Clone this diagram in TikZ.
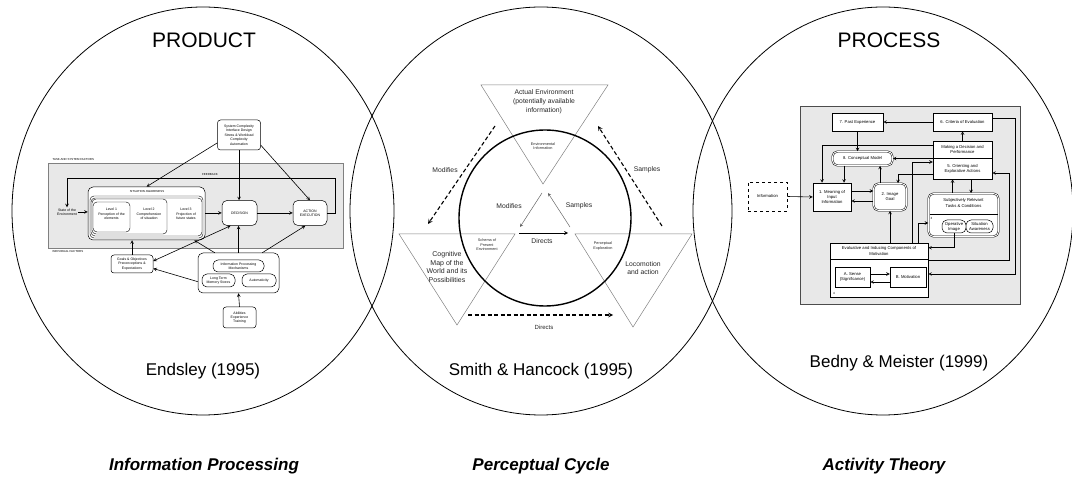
\documentclass[tikz,border=0pt]{standalone}
\usepackage{fontspec}
\setmainfont{Liberation Sans}

\newcommand\ensfont{\fontsize{3.5}{4.4}\selectfont}
\newcommand\enscaps{\fontsize{2.9}{3.5}\selectfont}
\newcommand\bedfont{\fontsize{4.2}{5.1}\selectfont}
\newcommand\phfont{\fontsize{6.8}{8.8}\selectfont}
\newcommand\phsmall{\fontsize{3.8}{4.6}\selectfont}

\begin{document}
\begin{tikzpicture}[
    x=1pt, y=-1pt,
    circ/.style={line width=0.8pt},
    ebox/.style={draw, rounded corners=3pt, fill=white, font=\ensfont, align=center, inner sep=0.5pt, line width=0.5pt},
    epill/.style={ebox, rounded corners=5pt},
    abox/.style={draw, fill=white, font=\bedfont, align=center, inner sep=0.5pt, line width=0.5pt},
    dbox/.style={abox, double, double distance=0.9pt, rounded corners=5pt},
    arrow/.style={->, >=stealth, line width=0.6pt},
    tri/.style={draw=gray, line width=0.5pt},
    darrow/.style={->, >=stealth, line width=1.1pt, dash pattern=on 4pt off 2.5pt},
    ptext/.style={font=\phfont, text=black!85, align=center},
    title/.style={font=\fontsize{21}{24}\selectfont},
    author/.style={font=\fontsize{17}{20}\selectfont},
    theory/.style={font=\fontsize{17}{20}\selectfont\bfseries\itshape}
]
\useasboundingbox (0,0) rectangle (1072,478);

% Three circles
\draw[circ] (203,211) ellipse [x radius=191, y radius=204];
\draw[circ] (541,211) ellipse [x radius=191, y radius=204];
\draw[circ] (883,211) ellipse [x radius=190, y radius=204];

% Titles
\node[title] (product) at (204,40) {PRODUCT};
\node[title] (process) at (889,40) {PROCESS};
\node[author] (endsley) at (203,371) {Endsley (1995)};
\node[author] (smith) at (541,371) {Smith \& Hancock (1995)};
\node[author] (bedny) at (899,363) {Bedny \& Meister (1999)};
\node[theory] (infoproc) at (204,466) {Information Processing};
\node[theory] (perccyc) at (541,466) {Perceptual Cycle};
\node[theory] (acttheo) at (884,466) {Activity Theory};

% Endsley model
\draw[fill=gray!18, draw=gray, line width=0.5pt] (48,163) rectangle (343,248);
\node[font=\enscaps, anchor=west] (tsf) at (49,160) {TASK AND SYSTEM FACTORS};
\node[font=\enscaps, anchor=west] (indf) at (49,252) {INDIVIDUAL FACTORS};
\node[font=\enscaps] (fbl) at (210,175) {FEEDBACK};
\node[ebox, minimum width=43pt, minimum height=30pt] (sys) at (239,135) {System Complexity\\Interface Design\\Stress \& Workload\\Complexity\\Automation};
\node[font=\ensfont, align=center, inner sep=1pt] (state) at (67,212) {State of the\\Environment};
\node[ebox, rounded corners=5pt, minimum width=117pt, minimum height=53pt] (sa) at (146.5,213.5) {};
\node[font=\enscaps] (salbl) at (147,192) {SITUATION AWARENESS};
\draw[rounded corners=4pt, fill=white, line width=0.4pt] (90,196) rectangle (203,238);
\draw[rounded corners=4pt, fill=white, line width=0.4pt] (91,198) rectangle (202,236);
\draw[rounded corners=4pt, fill=white, line width=0.4pt] (92,199) rectangle (167,234);
\draw[rounded corners=4pt, fill=white, line width=0.4pt] (93,202) rectangle (130,232);
\node[font=\ensfont, align=center] (lv1) at (111.5,214) {Level 1\\Perception of the\\elements};
\node[font=\ensfont, align=center] (lv2) at (149,214) {Level 2\\Comprehension\\of situation};
\node[font=\ensfont, align=center] (lv3) at (186,214) {Level 3\\Projection of\\future states};
\node[epill, minimum width=35pt, minimum height=25pt] (decision) at (239.5,213) {DECISION};
\node[epill, minimum width=34pt, minimum height=25pt] (action) at (310,213) {ACTION\\EXECUTION};
\node[ebox, minimum width=42pt, minimum height=18pt] (goals) at (132,264) {Goals \& Objectives\\Preconceptions \&\\Expectations};
\node[ebox, rounded corners=5pt, minimum width=81pt, minimum height=40pt] (info) at (238.5,273) {};
\node[epill, minimum width=51pt, minimum height=12pt] (ipm) at (238.5,266) {Information Processing\\Mechanisms};
\node[epill, minimum width=33pt, minimum height=13pt] (ltm) at (218.5,280.5) {Long Term\\Memory Stores};
\node[epill, minimum width=34pt, minimum height=13pt] (auto) at (259,280.5) {Automaticity};
\node[ebox, minimum width=33pt, minimum height=21pt] (apt) at (239.5,317.5) {Abilities\\Experience\\Training};
\coordinate (fbk) at (335,178);

\draw[arrow] (sys.200) -- (sa.north);
\draw[arrow] (sys.south) -- (sys.south |- decision.north);
\draw[arrow] (sys.-25) -- (action.north);
\draw[arrow] (state.east) -- (state.east -| sa.west);
\draw[arrow] (sa.east |- decision.west) -- (decision.west);
\draw[arrow] (decision.east) -- (action.west);
\draw[arrow] (action.east) -| (fbk) -| (state.north);
\draw[arrow] (goals.north) -- (goals.north |- sa.south);
\draw[arrow, <->] (goals.8) -- (decision.235);
\draw[arrow] (info.192) -- (goals.-12);
\draw[arrow] ([xshift=17pt]info.north west) -- ([xshift=-11pt]sa.south east);
\draw[arrow] (info.north) -- (info.north |- decision.south);
\draw[arrow] ([xshift=-17pt]info.north east) -- (action.250);
\draw[arrow] (apt.north) -- (info.south);

% Smith & Hancock perceptual cycle
\draw[tri] (481,85) -- (608,85) -- (543,184) -- cycle;
\draw[tri] (399,234) -- (515,234) -- (457,325) -- cycle;
\draw[tri] (575,234) -- (692,234) -- (633,327) -- cycle;
\draw[line width=1.4pt] (545,218) ellipse [x radius=86, y radius=88];
\node[ptext] (actenv) at (544,102) {Actual Environment\\(potentially available\\information)};
\node[ptext, font=\phsmall] (envinfo) at (543,146) {Environmental\\Information};
\node[ptext, font=\phsmall] (schema) at (487,245) {Schema of\\Present\\Environment};
\node[ptext, font=\fontsize{7}{8.7}\selectfont] (cogmap) at (447,267) {Cognitive\\Map of the\\World and its\\Possibilities};
\node[ptext, font=\phsmall] (percexp) at (603,246) {Perceptual\\Exploration};
\node[ptext] (locomo) at (643,268) {Locomotion\\and action};
\node[ptext] (imodl) at (509,206) {Modifies};
\node[ptext] (ismpl) at (579,206) {Samples};
\node[ptext] (idirl) at (542,241) {Directs};
\node[ptext] (omodl) at (445,170) {Modifies};
\node[ptext] (osmpl) at (647,170) {Samples};
\node[ptext, font=\fontsize{6}{7}\selectfont] (odirl) at (544,327) {Directs};
\coordinate (modA) at (495,126); \coordinate (modB) at (428,224);
\coordinate (smpA) at (662,226); \coordinate (smpB) at (598,126);
\coordinate (dirA) at (468,315); \coordinate (dirB) at (613,315);
\coordinate (imodA) at (542,193); \coordinate (imodB) at (520,227);
\coordinate (ismpA) at (570,227); \coordinate (ismpB) at (548,193);
\coordinate (idirA) at (519,233); \coordinate (idirB) at (568,233);

\draw[darrow] (modA) -- (modB);
\draw[darrow] (smpA) -- (smpB);
\draw[darrow] (dirA) -- (dirB);
\draw[arrow, gray!80!black, line width=0.5pt] (imodA) -- (imodB);
\draw[arrow, gray!80!black, line width=0.5pt] (ismpA) -- (ismpB);
\draw[arrow, line width=0.7pt] (idirA) -- (idirB);

% Bedny & Meister activity model
\draw[fill=gray!18, draw=black!70, line width=1pt] (800,107) rectangle (1020,305);
\node[abox, dashed, minimum width=39pt, minimum height=29pt] (infonode) at (767.5,196.5) {Information};
\node[abox, minimum width=51pt, minimum height=18pt] (past) at (857.5,122) {7. Past Experience};
\node[abox, minimum width=59pt, minimum height=18pt] (crit) at (962.5,122) {6. Criteria of Evaluation};
\node[abox, minimum width=59pt, minimum height=17pt] (mdp) at (962.5,149.5) {Making a Decision and\\Performance};
\node[abox, minimum width=59pt, minimum height=21pt] (orient) at (962.5,168.5) {5. Orienting and\\Explorative Actions};
\node[dbox, minimum width=60pt, minimum height=14pt] (concept) at (862.5,158.5) {8. Conceptual Model};
\node[abox, minimum width=38pt, minimum height=28pt] (meaning) at (832,197) {1. Meaning of\\Input\\Information};
\node[dbox, minimum width=33pt, minimum height=27pt] (goal) at (890,197) {2. Image\\Goal};
\node[dbox, minimum width=70pt, minimum height=43pt] (srt) at (963.5,215) {};
\draw[line width=0.5pt] (929.5,214) -- (997.5,214);
\node[font=\bedfont, align=center] (srtl) at (963.5,203) {Subjectively Relevant\\Tasks \& Conditions};
\node[font=\fontsize{3}{3.5}\selectfont] (num3) at (931.5,218) {3};
\node[abox, rounded corners=5pt, minimum width=24pt, minimum height=13pt] (opimg) at (954,226.5) {Operative\\Image};
\node[abox, rounded corners=5pt, minimum width=27pt, minimum height=13pt] (sitaw) at (979.5,226.5) {Situation\\Awareness};
\node[abox, minimum width=98pt, minimum height=54pt] (eval) at (879,270) {};
\draw[line width=0.5pt] (830,259) -- (928,259);
\node[font=\bedfont, align=center] (evall) at (879,251) {Evaluative and Inducing Components of\\Motivation};
\node[font=\fontsize{3}{3.5}\selectfont] (num4) at (834,293) {4};
\node[abox, minimum width=35pt, minimum height=20pt] (sense) at (852.5,277) {A. Sense\\(Significance)};
\node[abox, minimum width=36pt, minimum height=20pt] (motiv) at (908,277) {B. Motivation};
\coordinate (rtA) at (1015,118);
\coordinate (rtB) at (1009,173);

\draw[arrow] (infonode.east) -- (meaning.west);
\draw[arrow] (crit.west) -- (past.east);
\draw[arrow] (mdp.north) -- (crit.south);
\draw[arrow] (past.south) -- (past.south |- concept.north);
\draw[arrow] ([yshift=4.5pt]mdp.west) -| ([xshift=-10pt]meaning.north);
\draw[arrow] ([xshift=12pt]meaning.north |- concept.south) -- ([xshift=12pt]meaning.north);
\draw[arrow] ([xshift=-10pt]goal.north) -- ([xshift=-10pt]goal.north |- concept.south);
\draw[arrow] (concept.east -| orient.west) -- (concept.east);
\draw[arrow] ([xshift=33pt]eval.north) |- ([yshift=6.5pt]orient.west);
\draw[arrow] ([yshift=-5.5pt]orient.west) -| ([xshift=8pt]goal.north);
\draw[arrow] ([xshift=-11pt]srt.north) -- ([xshift=-11pt]srt.north |- orient.south);
\draw[arrow] ([xshift=8.5pt]orient.south) -- ([xshift=8.5pt]orient.south |- srt.north);
\draw[arrow] ([yshift=6pt]meaning.east) -- ([yshift=6pt]meaning.east -| goal.west);
\draw[arrow] ([yshift=-4pt]goal.west) -- ([yshift=-4pt]goal.west -| meaning.east);
\draw[arrow] (goal.south |- eval.north) -- (goal.south);
\draw[arrow] (opimg.south) |- ([yshift=-5pt]eval.north east);
\draw[arrow] ([xshift=-10pt]eval.north east) |- ([yshift=-8pt]srt.west);
\draw[arrow] ([yshift=4pt]crit.east) -- (rtA) |- ([yshift=-4pt]eval.east);
\draw[arrow] ([yshift=10pt]eval.east) -| (rtB) -- ([yshift=-4.5pt]orient.east);
\draw[arrow] ([yshift=3pt]sense.east) -- ([yshift=3pt]sense.east -| motiv.west);
\draw[arrow] ([yshift=-5pt]motiv.west) -- ([yshift=-5pt]motiv.west -| sense.east);
\end{tikzpicture}
\end{document}
